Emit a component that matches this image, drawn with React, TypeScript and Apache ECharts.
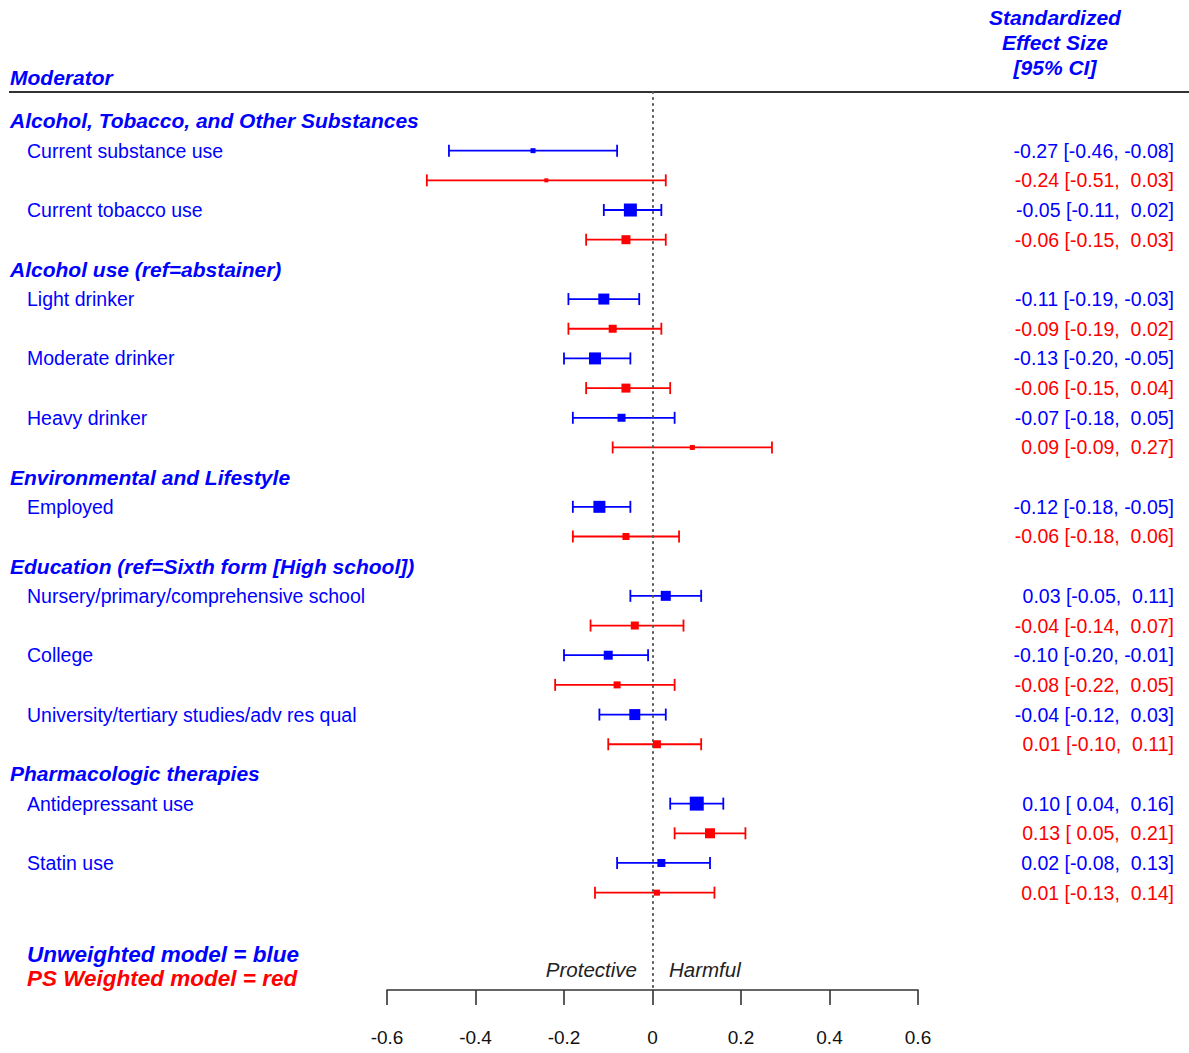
import React, { useEffect, useRef } from "react";
import * as echarts from "echarts";

const FONT = "'Liberation Sans', Arial, Helvetica, sans-serif";
const BLUE = "#0000ff";
const RED = "#ff0000";

const groupTitles = [
  "Alcohol, Tobacco, and Other Substances",
  "Alcohol use (ref=abstainer)",
  "Environmental and Lifestyle",
  "Education (ref=Sixth form [High school])",
  "Pharmacologic therapies",
];
const groupSizes = [2, 3, 1, 3, 2];

const moderators = [
  "Current substance use",
  "Current tobacco use",
  "Light drinker",
  "Moderate drinker",
  "Heavy drinker",
  "Employed",
  "Nursery/primary/comprehensive school",
  "College",
  "University/tertiary studies/adv res qual",
  "Antidepressant use",
  "Statin use",
];

const unweightedEst = [-0.27, -0.05, -0.11, -0.13, -0.07, -0.12, 0.03, -0.1, -0.04, 0.1, 0.02];
const unweightedLo = [-0.46, -0.11, -0.19, -0.2, -0.18, -0.18, -0.05, -0.2, -0.12, 0.04, -0.08];
const unweightedHi = [-0.08, 0.02, -0.03, -0.05, 0.05, -0.05, 0.11, -0.01, 0.03, 0.16, 0.13];
const unweightedBox = [5, 13, 11, 12, 8, 12, 10, 9, 11, 14, 8];

const weightedEst = [-0.24, -0.06, -0.09, -0.06, 0.09, -0.06, -0.04, -0.08, 0.01, 0.13, 0.01];
const weightedLo = [-0.51, -0.15, -0.19, -0.15, -0.09, -0.18, -0.14, -0.22, -0.1, 0.05, -0.13];
const weightedHi = [0.03, 0.03, 0.02, 0.04, 0.27, 0.06, 0.07, 0.05, 0.11, 0.21, 0.14];
const weightedBox = [4, 9, 8, 9, 5, 7, 8, 7, 8, 10, 6];

const xTicks = [-0.6, -0.4, -0.2, 0, 0.2, 0.4, 0.6];

const fmt = (v: number) => (v < 0 ? "-" : "\u00a0") + Math.abs(v).toFixed(2);
const ciText = (e: number, l: number, h: number) =>
  `${e < 0 ? "-" : ""}${Math.abs(e).toFixed(2)} [${fmt(l)}, ${fmt(h)}]`;

export default function App() {
  const ref = useRef<HTMLDivElement>(null);
  useEffect(() => {
    if (!ref.current) return;
    const chart = echarts.init(ref.current, undefined, { renderer: "svg" });

    const labelRows: any[] = [];
    const labelTexts: string[] = [];
    const ciData: any[] = [];
    let r = 0;
    let mi = 0;
    groupTitles.forEach((g, gi) => {
      labelRows.push([r, 0]);
      labelTexts.push(g);
      r++;
      for (let k = 0; k < groupSizes[gi]; k++) {
        labelRows.push([r, 1]);
        labelTexts.push(moderators[mi]);
        ciData.push([r, unweightedEst[mi], unweightedLo[mi], unweightedHi[mi], unweightedBox[mi], 0]);
        ciData.push([r + 1, weightedEst[mi], weightedLo[mi], weightedHi[mi], weightedBox[mi], 1]);
        r += 2;
        mi++;
      }
    });

    const option: any = {
      animation: false,
      backgroundColor: "#ffffff",
      grid: { left: 387, right: 271, top: 91.3, bottom: 63, containLabel: false },
      xAxis: {
        type: "value",
        position: "bottom",
        min: -0.6,
        max: 0.6,
        interval: 0.2,
        splitLine: { show: false },
        axisLine: { show: true, onZero: false, lineStyle: { color: "#333", width: 1.6 } },
        axisTick: { show: true, inside: false, length: 15, lineStyle: { color: "#333", width: 1.6 } },
        axisLabel: {
          color: "#111",
          fontSize: 19,
          fontFamily: FONT,
          margin: 38,
          formatter: (v: number) => {
            const t = xTicks.find((x) => Math.abs(x - v) < 1e-9);
            return t === undefined ? "" : String(t);
          },
        },
      },
      yAxis: {
        type: "value",
        inverse: true,
        min: -1,
        max: 29.28,
        show: false,
      },
      series: [
        {
          type: "custom",
          clip: false,
          data: ciData,
          encode: { x: [1, 2, 3], y: 0 },
          renderItem: (params: any, api: any) => {
            const row = api.value(0);
            const est = api.value(1);
            const lo = api.value(2);
            const hi = api.value(3);
            const size = api.value(4);
            const m = api.value(5);
            const color = m === 0 ? BLUE : RED;
            const pLo = api.coord([lo, row]);
            const pHi = api.coord([hi, row]);
            const pE = api.coord([est, row]);
            const cap = 6;
            const lw = 1.8;
            return {
              type: "group",
              children: [
                { type: "line", shape: { x1: pLo[0], y1: pLo[1], x2: pHi[0], y2: pHi[1] }, style: { stroke: color, lineWidth: lw } },
                { type: "line", shape: { x1: pLo[0], y1: pLo[1] - cap, x2: pLo[0], y2: pLo[1] + cap }, style: { stroke: color, lineWidth: lw } },
                { type: "line", shape: { x1: pHi[0], y1: pHi[1] - cap, x2: pHi[0], y2: pHi[1] + cap }, style: { stroke: color, lineWidth: lw } },
                { type: "rect", shape: { x: pE[0] - size / 2, y: pE[1] - size / 2, width: size, height: size }, style: { fill: color } },
                {
                  type: "text",
                  style: {
                    text: ciText(est, lo, hi),
                    x: 1174,
                    y: pE[1],
                    align: "right",
                    verticalAlign: "middle",
                    fill: color,
                    font: `19.5px ${FONT}`,
                  },
                },
              ],
            };
          },
          markLine: {
            silent: true,
            symbol: "none",
            label: { show: false },
            lineStyle: { type: [2.5, 3.5], color: "#555", width: 2 },
            data: [{ xAxis: 0 }],
          },
        },
        {
          type: "custom",
          clip: false,
          data: labelRows,
          encode: { y: 0 },
          renderItem: (params: any, api: any) => {
            const row = api.value(0);
            const kind = api.value(1);
            const p = api.coord([0, row]);
            const txt = labelTexts[params.dataIndex];
            return {
              type: "text",
              style: {
                text: txt,
                x: kind === 0 ? 10 : 27,
                y: p[1],
                align: "left",
                verticalAlign: "middle",
                fill: BLUE,
                font: kind === 0 ? `italic bold 21px ${FONT}` : `19.5px ${FONT}`,
              },
            };
          },
        },
      ],
      graphic: [
        { type: "line", shape: { x1: 9, y1: 92, x2: 1189, y2: 92 }, style: { stroke: "#333", lineWidth: 2 } },
        { type: "text", style: { text: "Moderator", x: 10, y: 77, verticalAlign: "middle", fill: BLUE, font: `italic bold 21px ${FONT}` } },
        {
          type: "text",
          style: {
            text: "Standardized\nEffect Size\n[95% CI]",
            x: 1055,
            y: 5,
            align: "center",
            verticalAlign: "top",
            lineHeight: 25,
            fill: BLUE,
            font: `italic bold 21px ${FONT}`,
          },
        },
        { type: "text", style: { text: "Unweighted model = blue", x: 27, y: 954, verticalAlign: "middle", fill: BLUE, font: `italic bold 22.5px ${FONT}` } },
        { type: "text", style: { text: "PS Weighted model = red", x: 27, y: 978, verticalAlign: "middle", fill: RED, font: `italic bold 22.5px ${FONT}` } },
        { type: "text", style: { text: "Protective", x: 637, y: 969, align: "right", verticalAlign: "middle", fill: "#222", font: `italic 20.5px ${FONT}` } },
        { type: "text", style: { text: "Harmful", x: 669, y: 969, align: "left", verticalAlign: "middle", fill: "#222", font: `italic 20.5px ${FONT}` } },
      ],
    };
    chart.setOption(option);
    return () => chart.dispose();
  }, []);
  return (
    <div
      ref={ref}
      style={{ position: "absolute", left: 0, top: 0, width: 1189, height: 1053, background: "#fff" }}
    />
  );
}
